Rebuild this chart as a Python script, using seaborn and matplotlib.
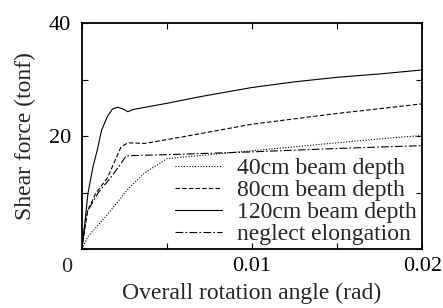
import numpy as np
import pandas as pd
import matplotlib
matplotlib.use("Agg")
import matplotlib.pyplot as plt
import seaborn as sns

# Data
x40 = [0, 0.00035, 0.0015, 0.0027, 0.0037, 0.005, 0.0075, 0.01, 0.0125, 0.015, 0.0175, 0.02]
y40 = [0, 2.2, 6.1, 10.6, 13.5, 16.0, 16.7, 17.4, 18.1, 18.8, 19.5, 20.1]

x80 = [0, 0.00016, 0.00035, 0.0008, 0.0015, 0.0023, 0.0027, 0.0037, 0.006, 0.01, 0.015, 0.02]
y80 = [0, 3.4, 6.9, 9.8, 12.6, 18.1, 18.8, 18.7, 19.9, 22.1, 24.0, 25.7]

x120 = [0, 0.00015, 0.00035, 0.00065, 0.0009, 0.00115, 0.0015, 0.0018, 0.0021, 0.0024, 0.0027, 0.003,
        0.005, 0.007, 0.01, 0.0125, 0.015, 0.0175, 0.02]
y120 = [0, 4.0, 9.8, 14.6, 17.5, 21.0, 23.5, 24.8, 25.1, 24.8, 24.3, 24.7,
        25.8, 27.0, 28.6, 29.6, 30.4, 31.0, 31.7]

xne = [0, 0.00025, 0.00065, 0.00094, 0.00173, 0.00231, 0.0026, 0.006, 0.01, 0.015, 0.02]
yne = [0, 6.3, 8.4, 9.9, 12.8, 15.2, 16.5, 16.8, 17.2, 17.8, 18.3]

labels = ["40cm beam depth", "80cm beam depth", "120cm beam depth", "neglect elongation"]

frames = []
for xs, ys, lab in zip([x40, x80, x120, xne], [y40, y80, y120, yne], labels):
    frames.append(pd.DataFrame({"angle": xs, "shear": ys, "series": lab}))
df = pd.concat(frames, ignore_index=True)

sns.set_style("ticks")
plt.rcParams["font.family"] = ["Liberation Serif", "DejaVu Serif"]

fig = plt.figure(figsize=(4.43, 3.08), dpi=100)
ax = fig.add_axes([0.185, 0.1916, 0.768, 0.7334])

dashes = {
    "40cm beam depth": (1, 1.5),
    "80cm beam depth": (4, 2),
    "120cm beam depth": "",
    "neglect elongation": (7, 2, 1.5, 2),
}
sns.lineplot(data=df, x="angle", y="shear", hue="series", style="series",
             hue_order=labels, style_order=labels,
             palette=["black"] * 4, dashes=dashes, linewidth=0.8,
             sort=False, estimator=None, ax=ax, legend=True)

ax.set_xlim(0, 0.02)
ax.set_ylim(0, 40)
ax.set_xticks([0, 0.005, 0.01, 0.015, 0.02])
ax.set_xticklabels(["", "", "0.01", "", "0.02"])
ax.set_yticks([0, 10, 20, 30, 40])
ax.set_yticklabels(["", "", "20", "", "40"])
ax.tick_params(direction="in", top=True, right=True, length=4, width=0.8,
               labelsize=16, colors="black")
ax.tick_params(axis="x", pad=6)
ax.tick_params(axis="y", pad=8)
ax.text(-0.044, -0.082, "0", transform=ax.transAxes, ha="center", va="center",
        fontsize=16)
for s in ax.spines.values():
    s.set_linewidth(1.3)
    s.set_color("black")

ax.set_xlabel("Overall rotation angle (rad)", fontsize=17, labelpad=5)
ax.set_ylabel("Shear force (tonf)", fontsize=17, labelpad=9)

leg = ax.legend(loc="lower right", frameon=False, fontsize=17,
                handlelength=2.0, handletextpad=0.64, labelspacing=0.02,
                borderaxespad=0, borderpad=0, bbox_to_anchor=(0.985, 0.018))
for h in leg.get_lines():
    h.set_linewidth(0.8)

fig.savefig("out.png", dpi=100, facecolor="white")
